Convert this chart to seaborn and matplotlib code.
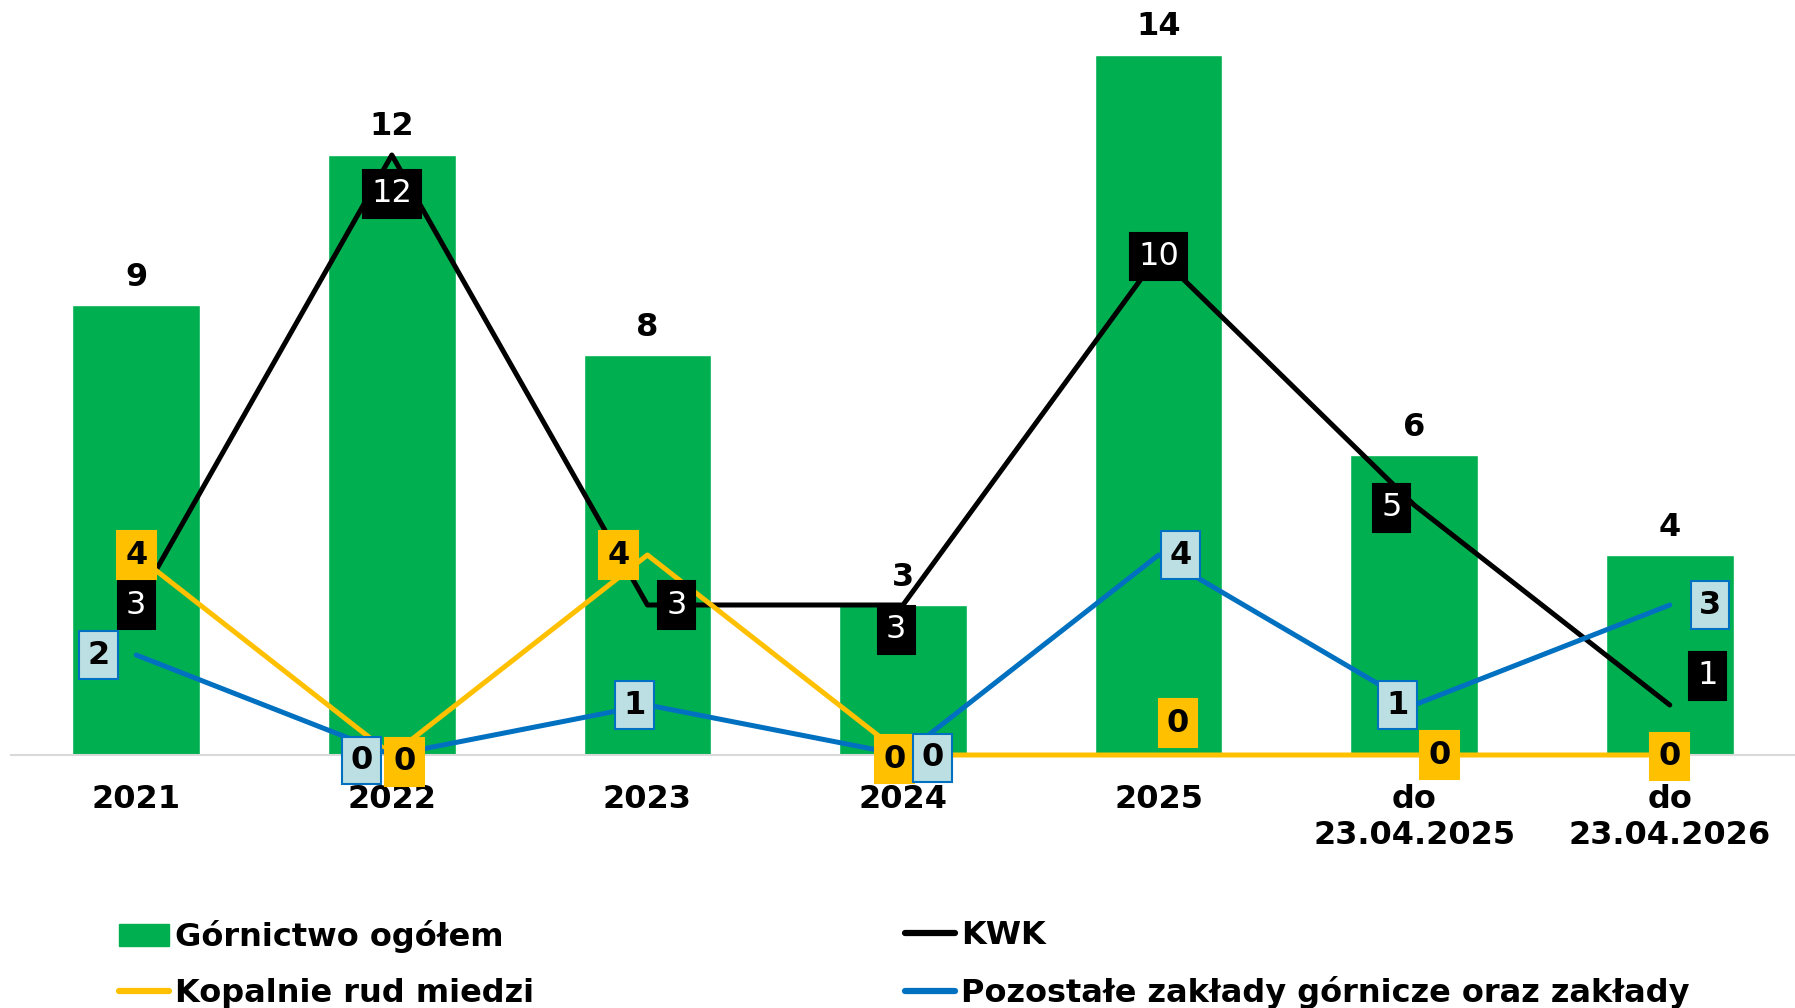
import numpy as np
import pandas as pd
import matplotlib
matplotlib.use('Agg')
import matplotlib.pyplot as plt
import seaborn as sns
from matplotlib.patches import Patch
from matplotlib.lines import Line2D

# dane
kategorie = ['2021', '2022', '2023', '2024', '2025', 'do\n23.04.2025', 'do\n23.04.2026']
gornictwo = [9, 12, 8, 3, 14, 6, 4]
kwk = [3, 12, 3, 3, 10, 5, 1]
miedz = [4, 0, 4, 0, 0, 0, 0]
pozostale = [2, 0, 1, 0, 4, 1, 3]

# przesunięcia etykiet (pt) względem punktów
off_kwk = [(0, 0), (0, -28), (21, 0), (-5, -18), (0, -1), (-16, -2), (27, 21)]
off_miedz = [(0, 0), (9, -5), (-21, 0), (-6, -3), (14, 23), (18, 0), (0, -1)]
off_poz = [(-27, 0), (-22, -4), (-9, 0), (21, -2), (16, 0), (-12, 0), (29, 0)]

ZIELONY = '#00B050'
ZOLTY = '#FFC000'
NIEBIESKI = '#0070C0'
JASNY = '#BCDFE3'
FS = 23
LW = 3.6

sns.set_theme(style='white')
plt.rcParams['font.family'] = ['DejaVu Sans']
plt.rcParams['text.color'] = 'black'
plt.rcParams['xtick.color'] = 'black'

fig = plt.figure(figsize=(17.95, 10.08), dpi=100)
ax = fig.add_axes([11 / 1795, 253 / 1008, 1784 / 1795, 755 / 1008])

df = pd.DataFrame({'kat': kategorie, 'val': gornictwo})
sns.barplot(data=df, x='kat', y='val', color=ZIELONY, saturation=1, width=0.5, ax=ax, zorder=1)
for c in ax.containers:
    ax.bar_label(c, padding=9, fontsize=FS, fontweight='bold', color='black')

x = np.arange(len(kategorie))
sns.lineplot(x=x, y=kwk, color='black', linewidth=LW, ax=ax, zorder=3, clip_on=False)
sns.lineplot(x=x, y=miedz, color=ZOLTY, linewidth=LW, ax=ax, zorder=3, clip_on=False)
sns.lineplot(x=x, y=pozostale, color=NIEBIESKI, linewidth=LW, ax=ax, zorder=3, clip_on=False)


def etykiety(vals, offs, fc, ec, tc, weight):
    for xi, v, (dx, dy) in zip(x, vals, offs):
        ax.annotate(str(v), (xi, v), xytext=(dx, dy), textcoords='offset points',
                    ha='center', va='center', fontsize=FS, fontweight=weight, color=tc,
                    bbox=dict(boxstyle='square,pad=0.26', fc=fc, ec=ec, lw=1.5),
                    zorder=5, annotation_clip=False)


etykiety(kwk, off_kwk, 'black', 'black', 'white', 'normal')
etykiety(miedz, off_miedz, ZOLTY, ZOLTY, 'black', 'bold')
etykiety(pozostale, off_poz, JASNY, NIEBIESKI, 'black', 'bold')

ax.set_xlim(-0.49, len(kategorie) - 0.51)
ax.set_ylim(0, 15.1)
ax.set_xlabel('')
ax.set_ylabel('')
ax.set_yticks([])
ax.tick_params(axis='x', length=0, pad=21, labelsize=FS)
for t in ax.get_xticklabels():
    t.set_fontweight('bold')
for s in ['left', 'top', 'right']:
    ax.spines[s].set_visible(False)
ax.spines['bottom'].set_color('#D9D9D9')
ax.spines['bottom'].set_linewidth(1.5)
ax.spines['bottom'].set_zorder(2)

leg_kw = dict(loc='upper left', frameon=False, prop={'weight': 'bold', 'size': FS},
              handlelength=1.55, handletextpad=0.2, labelspacing=0.78, borderpad=0, borderaxespad=0)
fig.legend([Patch(color=ZIELONY), Line2D([], [], color=ZOLTY, lw=4.5)],
           ['Górnictwo ogółem', 'Kopalnie rud miedzi'],
           bbox_to_anchor=(119 / 1795, 1 - 920 / 1008), **leg_kw)
fig.legend([Line2D([], [], color='black', lw=4.5), Line2D([], [], color=NIEBIESKI, lw=4.5)],
           ['KWK', 'Pozostałe zakłady górnicze oraz zakłady'],
           bbox_to_anchor=(905 / 1795, 1 - 920 / 1008), **leg_kw)

fig.savefig('out.png', dpi=100)
